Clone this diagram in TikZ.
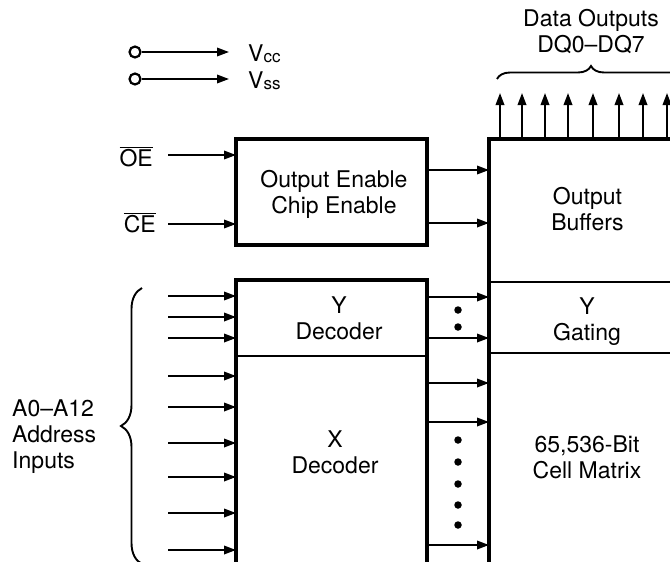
\documentclass[tikz,border=0pt]{standalone}
\usepackage{fontspec}
\setmainfont{TeX Gyre Heros}
\usetikzlibrary{arrows.meta,decorations.pathreplacing}
\begin{document}
\begin{tikzpicture}[x=1pt,y=-1pt,
  box/.style={draw,line width=3.4pt,inner sep=0pt,outer sep=0pt,anchor=north west},
  arr/.style={line width=1.9pt,-{Triangle[length=12pt,width=8.5pt]}},
  lbl/.style={font=\fontsize{23}{26}\selectfont,align=center,inner sep=0pt},
  div/.style={line width=1.9pt},
  dotn/.style={circle,fill,inner sep=0pt,minimum size=7.5pt},
  pin/.style={circle,draw,line width=2.2pt,inner sep=0pt,minimum size=11pt},
  brc/.style={decorate,decoration={brace,amplitude=#1},line width=1.9pt},
  ]
\useasboundingbox (0,0) rectangle (670,562);
\clip (0,0) rectangle (670,562);

% boxes
\node[box,minimum width=191pt,minimum height=106pt] (ctl) at (236,139) {};
\node[box,minimum width=191pt,minimum height=300pt] (dec) at (236,280) {};
\node[box,minimum width=203pt,minimum height=460pt] (mat) at (489,139) {};

% dividers
\coordinate (d1) at (0,282);
\coordinate (d2) at (0,353);
\coordinate (d3) at (0,356);
\draw[div] (mat.west |- d1) -- (mat.east |- d1);
\draw[div] (mat.west |- d2) -- (mat.east |- d2);
\draw[div] (dec.west |- d3) -- (dec.east |- d3);

% box texts
\node[lbl] (tctl) at (334,194) {Output Enable\\Chip Enable};
\node[lbl] (tbuf) at (587.5,209.5) {Output\\Buffers};
\node[lbl] (tyg) at (587,322) {Y\\Gating};
\node[lbl] (tcm) at (587,457) {65,536-Bit\\Cell Matrix};
\node[lbl] (tyd) at (339,318) {Y\\Decoder};
\node[lbl] (txd) at (335,452) {X\\Decoder};

% power pins
\node[pin] (p1) at (135,52) {};
\node[pin] (p2) at (135,79) {};
\coordinate (p1e) at (229,52);
\coordinate (p2e) at (229,79);
\draw[arr] (p1) -- (p1e);
\draw[arr] (p2) -- (p2e);
\node[lbl,anchor=base west] (vcc) at (248,61) {V\raisebox{-1pt}{\fontsize{17}{17}\selectfont cc}};
\node[lbl,anchor=base west] (vss) at (248,88) {V\raisebox{-1pt}{\fontsize{17}{17}\selectfont ss}};

% control inputs
\node[lbl,anchor=base east] (oe) at (153,166) {$\overline{\mbox{OE}}$};
\node[lbl,anchor=base east] (ce) at (156,232) {$\overline{\mbox{CE}}$};
\coordinate (oes) at (168,155);
\coordinate (ces) at (168,224);
\draw[arr] (oes) -- (oes -| ctl.west);
\draw[arr] (ces) -- (ces -| ctl.west);

% control to buffers
\coordinate (c1) at (0,170);
\coordinate (c2) at (0,223);
\draw[arr] (ctl.east |- c1) -- (mat.west |- c1);
\draw[arr] (ctl.east |- c2) -- (mat.west |- c2);

% address inputs
\foreach \y [count=\i] in {296,317,338,376,407,443,477,513,550}{
  \coordinate (a\i) at (168,\y);
  \draw[arr] (a\i) -- (a\i -| dec.west);
}
\coordinate (bb) at (142,564);
\coordinate (bt) at (142,288);
\draw[brc=21pt] (bb) -- (bt);
\node[lbl,align=left,anchor=west] (addr) at (12,437) {A0--A12\\Address\\Inputs};

% decoder to matrix
\foreach \y [count=\i] in {297,338,383,422,545}{
  \coordinate (m\i) at (0,\y);
  \draw[arr] (dec.east |- m\i) -- (mat.west |- m\i);
}
\foreach \y [count=\i] in {310,327,440,462,484,505,525}{
  \node[dotn] (dt\i) at (458,\y) {};
}

% data outputs
\foreach \x [count=\i] in {500,522,545,568,593,619,643,667}{
  \coordinate (q\i) at (\x,93);
  \draw[arr] (q\i |- mat.north) -- (q\i);
}
\coordinate (bl) at (497,79);
\coordinate (br) at (685,79);
\draw[brc=13pt] (bl) -- (br);
\node[lbl] (tdq) at (591,32) {Data Outputs\\DQ0--DQ7};
\end{tikzpicture}
\end{document}
